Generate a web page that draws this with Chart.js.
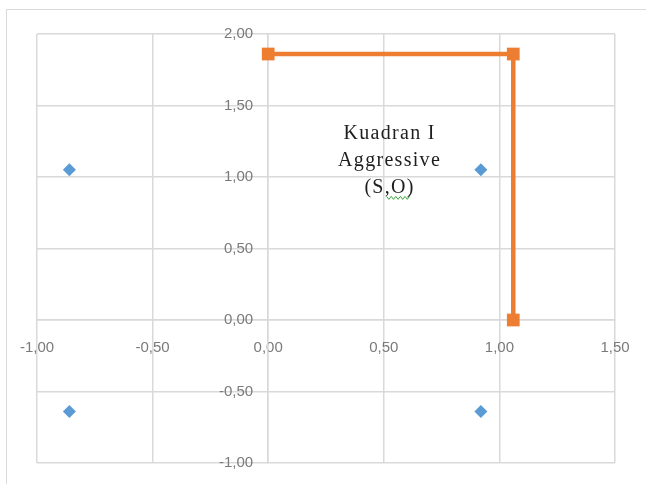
<!DOCTYPE html>
<html>
<head>
<meta charset="utf-8">
<script src="https://cdn.jsdelivr.net/npm/chart.js@4.4.1/dist/chart.umd.min.js"></script>
<style>
  html, body { margin: 0; padding: 0; background: #fff; }
  #wrap { position: relative; width: 646px; height: 484px; overflow: hidden; }
  #frame { position: absolute; left: 6px; top: 9px; width: 700px; height: 500px;
           border-left: 1.5px solid #dadada; border-top: 1.5px solid #dadada; }
  canvas { position: absolute; left: 0; top: 0; }
</style>
</head>
<body>
<div id="wrap">
  <div id="frame"></div>
  <canvas id="c" width="646" height="484"></canvas>
</div>
<script>
// ---- data ----
const pointsX = [-0.86, 0.92, -0.86, 0.92];
const pointsY = [1.05, 1.05, -0.64, -0.64];
const boundaryX = [0, 1.06, 1.06];
const boundaryY = [1.86, 1.86, 0];
const xTicks = [-1, -0.5, 0, 0.5, 1, 1.5];
const yTicks = [-1, -0.5, 0, 0.5, 1, 1.5, 2];
const xTickLabels = ['-1,00', '-0,50', '0,00', '0,50', '1,00', '1,50'];
const yTickLabels = ['-1,00', '-0,50', '0,00', '0,50', '1,00', '1,50', '2,00'];
const noteLines = ['Kuadran I', 'Aggressive', '(S,O)'];
const noteAt = { x: 0.525, y: 1.305 };

const grid = '#d9d9d9';
const tickFont = { family: 'Liberation Sans', size: 15 };
const yLabelGap = 15;

function labelFor(list, labels, v) {
  const i = list.findIndex(t => Math.abs(t - v) < 1e-9);
  return i >= 0 ? labels[i] : '';
}

// shift the y tick labels off the crossing axis line (left of x = 0)
const yLabelShift = {
  id: 'yLabelShift',
  beforeDraw(chart) {
    const s = chart.scales.y;
    if (!s || typeof s._computeLabelItems !== 'function') return;
    const items = s._computeLabelItems(chart.chartArea);
    items.forEach(it => {
      if (it.options && it.options.translation) it.options.translation[0] -= yLabelGap;
    });
    s._labelItems = items;
  }
};

const notePlugin = {
  id: 'note',
  afterDatasetsDraw(chart) {
    const { ctx, scales } = chart;
    const cx = scales.x.getPixelForValue(noteAt.x);
    const cy = scales.y.getPixelForValue(noteAt.y);
    ctx.save();
    ctx.font = '20px "Liberation Serif"';
    if ('letterSpacing' in ctx) ctx.letterSpacing = '1.3px';
    ctx.fillStyle = '#1e1e1e';
    ctx.textAlign = 'center';
    ctx.textBaseline = 'middle';
    noteLines.forEach((t, i) => ctx.fillText(t, cx, cy + i * 27));
    // spell-check squiggle under "O)"
    const sy = cy + 2 * 27 + 10;
    const sx = cx - 3;
    ctx.strokeStyle = '#3aa83a';
    ctx.lineWidth = 1;
    ctx.beginPath();
    for (let k = 0; k <= 10; k++) {
      const px = sx + k * 2.3;
      const py = sy + (k % 2 ? 2 : -1);
      if (k === 0) ctx.moveTo(px, py); else ctx.lineTo(px, py);
    }
    ctx.stroke();
    ctx.restore();
  }
};

new Chart(document.getElementById('c'), {
  type: 'scatter',
  data: {
    datasets: [
      {
        label: 'Points',
        data: pointsX.map((x, i) => ({ x, y: pointsY[i] })),
        pointStyle: 'rectRot',
        pointRadius: 6.5,
        backgroundColor: '#5b9bd5',
        borderColor: '#5b9bd5',
        borderWidth: 0,
        showLine: false
      },
      {
        label: 'Boundary',
        data: boundaryX.map((x, i) => ({ x, y: boundaryY[i] })),
        showLine: true,
        borderColor: '#ed7d31',
        backgroundColor: '#ed7d31',
        borderWidth: 4.5,
        pointStyle: 'rect',
        pointRadius: 9,
        pointBorderWidth: 0,
        tension: 0
      }
    ]
  },
  options: {
    responsive: false,
    animation: false,
    devicePixelRatio: 1,
    layout: { padding: { left: 37, right: 31, top: 34, bottom: 21 } },
    plugins: { legend: { display: false }, tooltip: { enabled: false } },
    scales: {
      x: {
        type: 'linear',
        min: -1, max: 1.5,
        position: { y: 0 },
        afterBuildTicks: s => { s.ticks = xTicks.map(v => ({ value: v })); },
        afterFit: s => { s.height = 0; s.paddingLeft = 0; s.paddingRight = 0; },
        grid: { color: grid, lineWidth: 1.5, drawTicks: false },
        border: { color: grid, width: 1.5 },
        ticks: {
          autoSkip: false, maxRotation: 0, padding: 19,
          color: '#7a7a7a', font: tickFont,
          callback: v => labelFor(xTicks, xTickLabels, v)
        }
      },
      y: {
        type: 'linear',
        min: -1, max: 2,
        position: { x: 0 },
        afterBuildTicks: s => { s.ticks = yTicks.map(v => ({ value: v })); },
        afterFit: s => { s.width = 0; s.paddingTop = 0; s.paddingBottom = 0; },
        grid: { color: grid, lineWidth: 1.5, drawTicks: false },
        border: { color: grid, width: 1.5 },
        ticks: {
          autoSkip: false, padding: 0,
          color: '#7a7a7a', font: tickFont,
          callback: v => labelFor(yTicks, yTickLabels, v)
        }
      }
    }
  },
  plugins: [yLabelShift, notePlugin]
});
</script>
</body>
</html>
